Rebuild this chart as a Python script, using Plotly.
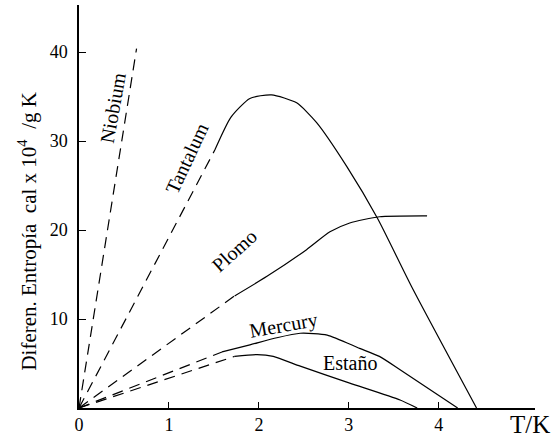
import plotly.graph_objects as go

# ---- data (T in K, entropy difference in cal x 10^4 / g K) ----
niobium_dash_T = [0.0, 0.64]
niobium_dash_S = [0.0, 40.4]

tantalum_dash_T = [0.0, 1.51]
tantalum_dash_S = [0.0, 29.0]
tantalum_T = [1.51, 1.69, 1.9, 2.14, 2.42, 2.64, 2.98, 3.32, 3.70, 4.42]
tantalum_S = [29.0, 32.7, 34.8, 35.2, 34.3, 32.1, 27.1, 21.3, 13.6, 0.0]

plomo_dash_T = [0.0, 1.73]
plomo_dash_S = [0.0, 12.6]
plomo_T = [1.73, 2.09, 2.53, 2.79, 3.01, 3.34, 3.87]
plomo_S = [12.6, 14.8, 17.8, 19.8, 20.8, 21.5, 21.6]

mercury_dash_T = [0.0, 1.59]
mercury_dash_S = [0.0, 6.3]
mercury_T = [1.59, 1.9, 2.2, 2.46, 2.76, 3.12, 3.34, 3.57, 4.21]
mercury_S = [6.3, 7.1, 7.9, 8.4, 8.2, 6.7, 5.8, 4.3, 0.0]

estano_dash_T = [0.0, 1.73]
estano_dash_S = [0.0, 5.8]
estano_T = [1.73, 1.98, 2.16, 2.46, 3.01, 3.57, 3.76]
estano_S = [5.8, 6.0, 5.8, 4.7, 2.8, 0.9, 0.0]

x_ticks = [0, 1, 2, 3, 4]
y_ticks = [10, 20, 30, 40]

labels = ["Niobium", "Tantalum", "Plomo", "Mercury", "Estaño"]
label_T = [0.38, 1.2, 1.72, 2.27, 3.01]
label_S = [33.8, 28.1, 17.7, 9.3, 5.1]
label_angle = [-80, -65, -42, -10, 0]

SERIF = "Liberation Serif, Times New Roman, serif"
DASH = "11px,7px"

fig = go.Figure()

dashed = [(niobium_dash_T, niobium_dash_S), (tantalum_dash_T, tantalum_dash_S),
          (plomo_dash_T, plomo_dash_S), (mercury_dash_T, mercury_dash_S),
          (estano_dash_T, estano_dash_S)]
for xs, ys in dashed:
    fig.add_trace(go.Scatter(x=xs, y=ys, mode="lines",
                             line=dict(color="black", width=1.2, dash=DASH),
                             showlegend=False, hoverinfo="skip"))

solid = [(tantalum_T, tantalum_S), (plomo_T, plomo_S),
         (mercury_T, mercury_S), (estano_T, estano_S)]
for xs, ys in solid:
    fig.add_trace(go.Scatter(x=xs, y=ys, mode="lines",
                             line=dict(color="black", width=1.2, shape="spline", smoothing=0.6),
                             showlegend=False, hoverinfo="skip"))

for txt, tx, ty, ang in zip(labels, label_T, label_S, label_angle):
    fig.add_annotation(x=tx, y=ty, xref="x", yref="y", text=txt, showarrow=False,
                       textangle=ang, xanchor="center", yanchor="middle",
                       font=dict(family=SERIF, size=20, color="black"))

fig.add_annotation(xref="paper", yref="paper", x=-0.112, y=0.44,
                   text="Diferen. Entropía\u00a0\u00a0cal x 10<sup>4</sup>\u00a0\u00a0/g K",
                   textangle=-90, showarrow=False, xanchor="center", yanchor="middle",
                   font=dict(family=SERIF, size=21, color="black"))
fig.add_annotation(xref="paper", yref="paper", x=0.989, y=-0.042, text="T/K",
                   showarrow=False, xanchor="center", yanchor="middle",
                   font=dict(family=SERIF, size=25, color="black"))

fig.update_layout(
    width=554, height=441,
    margin=dict(l=79, r=19, t=5, b=33),
    paper_bgcolor="white", plot_bgcolor="white",
    showlegend=False,
)
fig.update_xaxes(range=[0, 5.07], tickvals=x_ticks, ticks="inside", ticklen=6,
                 tickcolor="black", tickwidth=1, showline=True, linecolor="black",
                 linewidth=1.5, showgrid=False, zeroline=False,
                 tickfont=dict(family=SERIF, size=18, color="black"))
fig.update_yaxes(range=[0, 45.3], tickvals=y_ticks, ticks="inside", ticklen=7,
                 tickcolor="black", tickwidth=1, showline=True, linecolor="black",
                 linewidth=1.5, showgrid=False, zeroline=False,
                 ticklabelstandoff=6,
                 tickfont=dict(family=SERIF, size=18, color="black"))

fig.write_html("out.html")
